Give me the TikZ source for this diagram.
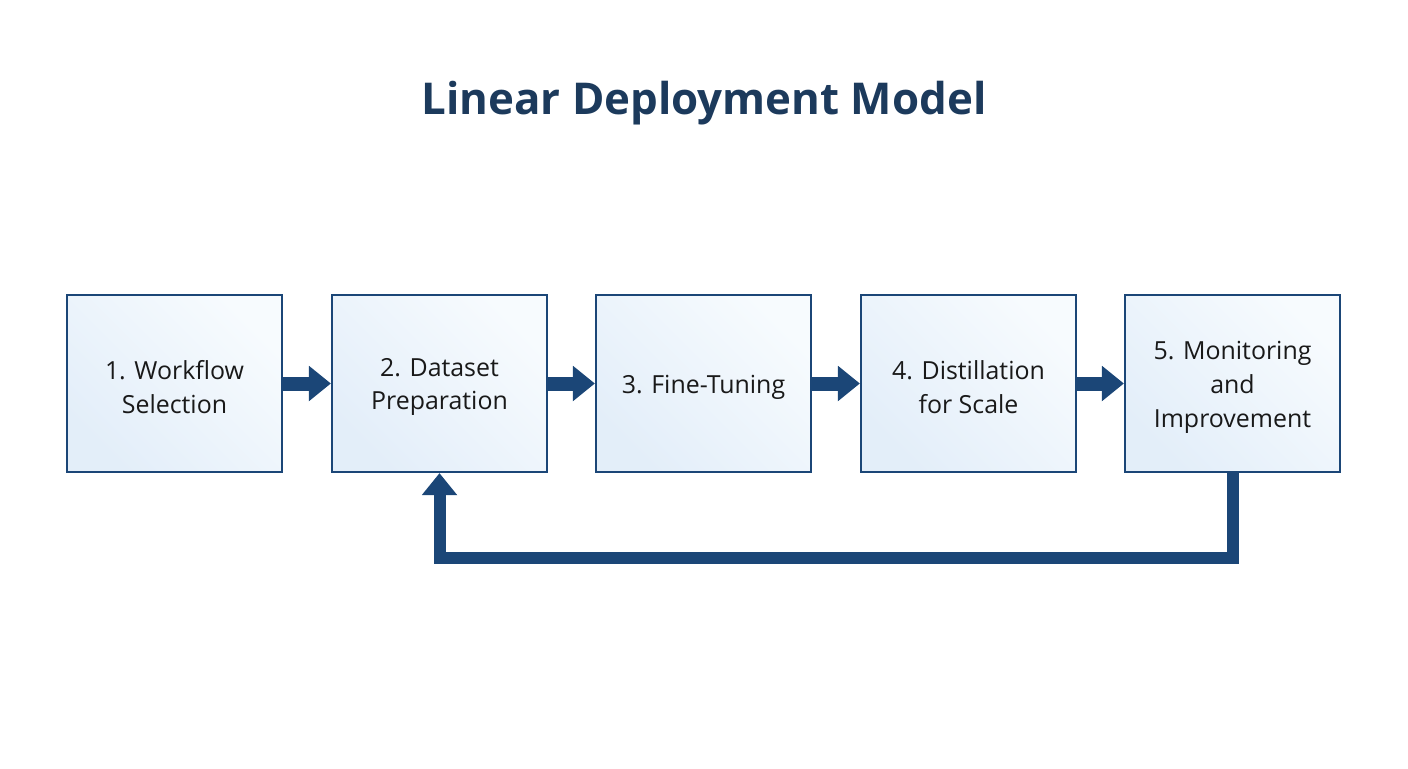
\documentclass[tikz,border=0pt]{standalone}
\usepackage{fontspec}
\setmainfont{Open Sans}
\usetikzlibrary{arrows.meta}
\definecolor{navy}{HTML}{1B4677}
\definecolor{titlec}{HTML}{1C3A5C}
\definecolor{boxa}{HTML}{E3EEF9}
\definecolor{boxb}{HTML}{F7FBFE}
\begin{document}
\begin{tikzpicture}[x=1bp,y=-1bp,
  stepbox/.style={draw=navy,line width=2.2bp,minimum width=215bp,minimum height=177bp,
    top color=boxa,bottom color=boxb,shading angle=135,align=center,
    font=\fontsize{25}{34}\selectfont,text=black!90},
  lbl/.style={align=center,font=\fontsize{25}{34}\selectfont,text=black!90},
  arr/.style={draw=navy,line width=14bp,-{Triangle[length=22bp,width=34bp]}}]
\useasboundingbox (0,0) rectangle (1408,768);
\node[font=\fontsize{44}{50}\selectfont\bfseries,text=titlec] (t) at (704,103) {Linear Deployment Model};
\node[stepbox] (s1) at (174.5,383.5) {};
\node[stepbox] (s2) at (439.5,383.5) {};
\node[stepbox] (s3) at (703.5,383.5) {};
\node[stepbox] (s4) at (968.5,383.5) {};
\node[stepbox] (s5) at (1232.5,383.5) {};
\node[lbl] (l1) at (174.5,387) {1. Workflow\\Selection};
\node[lbl] (l2) at (439.5,387) {2. Dataset\\Preparation};
\node[lbl] (l3) at (703.5,387) {3. Fine-Tuning};
\node[lbl] (l4) at (968.5,387) {4. Distillation\\for Scale};
\node[lbl] (l5) at (1232.5,387) {5. Monitoring\\and\\Improvement};
\draw[arr] (s1) -- (s2);
\draw[arr] (s2) -- (s3);
\draw[arr] (s3) -- (s4);
\draw[arr] (s4) -- (s5);
\coordinate (c1) at (1232.5,558);
\coordinate (c2) at (439.5,558);
\draw[arr,line width=12bp,line join=miter] (s5.south) -- (c1) -- (c2) -- (s2.south);
\end{tikzpicture}
\end{document}
